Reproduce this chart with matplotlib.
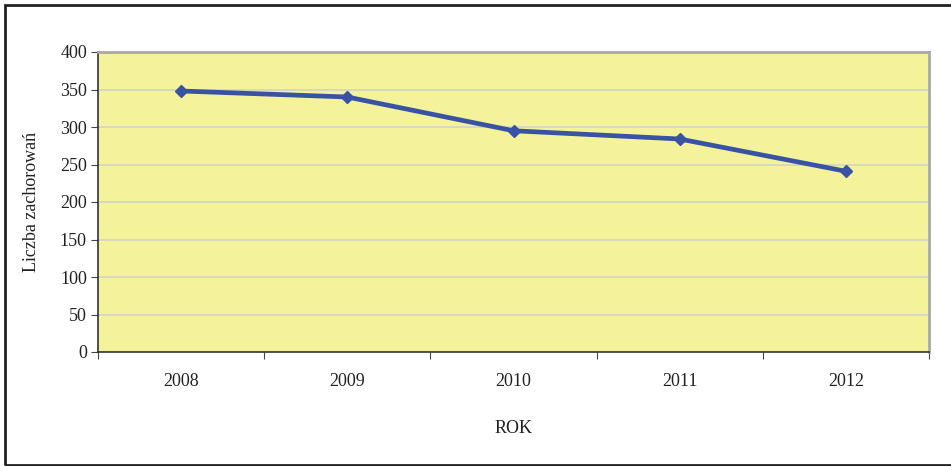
import matplotlib
matplotlib.use("Agg")
import matplotlib.pyplot as plt
from matplotlib.patches import Rectangle

# Dane: liczba zachorowań w kolejnych latach
years = ["2008", "2009", "2010", "2011", "2012"]
cases = [348, 340, 295, 284, 241]
y_ticks = [0, 50, 100, 150, 200, 250, 300, 350, 400]

plt.rcParams["font.family"] = ["Liberation Serif", "DejaVu Serif"]
FS = 13
TXT = "#222222"

W, H = 951, 466
fig = plt.figure(figsize=(W / 100, H / 100), dpi=100)

# ramka wokół całego wykresu
fig.patches.append(Rectangle((4.5 / W, 1 - 464.5 / H), 1.2, (460 / H),
                             transform=fig.transFigure, fill=False,
                             edgecolor="#222222", linewidth=2))

left, right, top, bottom = 98, 929, 52, 352
ax = fig.add_axes([left / W, 1 - bottom / H, (right - left) / W, (bottom - top) / H])
ax.set_facecolor("#F4F29B")

x = list(range(len(years)))
ax.plot(x, cases, color="#3953A4", linewidth=3.4, marker="D", markersize=6,
        solid_joinstyle="round", zorder=3)

ax.set_xlim(-0.5, len(years) - 0.5)
ax.set_ylim(0, 400)
ax.set_yticks(y_ticks)
ax.set_yticklabels([str(v) for v in y_ticks], fontsize=FS, color=TXT)
ax.yaxis.grid(True, color="#CFCFCF", linewidth=1.1)
ax.set_axisbelow(True)

# etykiety lat między znacznikami
ax.set_xticks([i - 0.5 for i in range(len(years) + 1)])
ax.set_xticklabels([])
ax.set_xticks(x, minor=True)
ax.set_xticklabels(years, minor=True, fontsize=FS, color=TXT)
ax.tick_params(axis="x", which="minor", length=0, pad=15)
ax.tick_params(axis="x", which="major", length=5, color="#444444")
ax.tick_params(axis="y", length=5, color="#444444", pad=3)

for side in ("left", "bottom"):
    ax.spines[side].set_color("#333333")
    ax.spines[side].set_linewidth(1.2)
for side in ("top", "right"):
    ax.spines[side].set_color("#A8A8A8")
    ax.spines[side].set_linewidth(2)

ax.set_xlabel("ROK", fontsize=FS, color=TXT, labelpad=22)
ax.set_ylabel("Liczba zachorowań", fontsize=FS, color=TXT, labelpad=14)

fig.savefig("out.png", dpi=100)
